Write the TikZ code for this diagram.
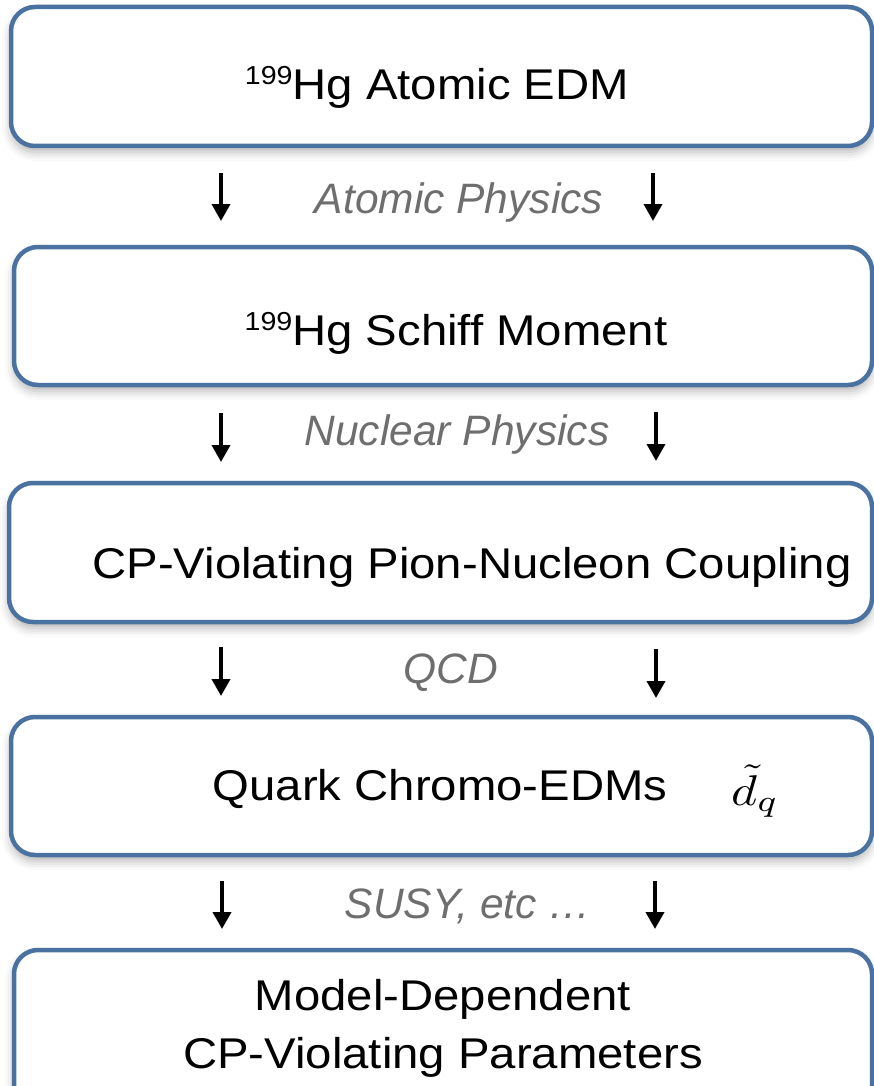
\documentclass[tikz,border=0pt]{standalone}
\usepackage{fontspec}
\setmainfont{Liberation Sans}
\newfontfamily\boxfont[FakeStretch=1.1]{Liberation Sans}
\newfontfamily\labfont{Liberation Sans}
\usetikzlibrary{arrows.meta,shadows.blur}
\definecolor{boxblue}{RGB}{74,114,160}
\definecolor{labgray}{RGB}{110,110,110}
\newcommand{\isotope}{{\fontsize{26}{26}\selectfont\raisebox{15pt}{199}}}
\tikzset{
  stagebox/.style={draw=boxblue, line width=4.5pt, rounded corners=24pt, fill=white,
    blur shadow={shadow xshift=0pt, shadow yshift=-6pt, shadow blur radius=9pt, shadow opacity=30}},
  boxtext/.style={inner sep=0pt, anchor=base, font=\boxfont\fontsize{43}{58}\selectfont, text=black},
  labtext/.style={inner sep=0pt, anchor=base, font=\labfont\itshape\fontsize{42.5}{50}\selectfont, text=labgray},
  arr/.style={line width=3.8pt, -{Triangle[width=18pt,length=17pt]}, black}
}
\begin{document}
\begin{tikzpicture}[x=1pt,y=-1pt]
\useasboundingbox (0,0) rectangle (874,1086);
% boxes
\path[stagebox] (11,7) rectangle (872,146);
\path[stagebox] (14,247) rectangle (872,385);
\path[stagebox] (9,483) rectangle (872,622);
\path[stagebox] (11,717) rectangle (872,855);
\path[stagebox] (14,950) rectangle (872,1110);
% box texts
\node[boxtext] (t1) at (437,100) {\isotope Hg Atomic EDM};
\node[boxtext] (t2) at (456,345) {\isotope Hg Schiff Moment};
\node[boxtext] (t3) at (472,578) {CP-Violating Pion-Nucleon Coupling};
\node[boxtext] (t4) at (440,800) {Quark Chromo-EDMs};
\node[inner sep=0pt, anchor=base west] (t4m) at (731,805) {\scalebox{5.0}[4.3]{$\tilde{d}_q$}};
\node[boxtext] (t5a) at (443,1010) {Model-Dependent};
\node[boxtext] (t5b) at (443,1068) {CP-Violating Parameters};
% labels
\node[labtext] (l1) at (459,213) {Atomic Physics};
\node[labtext] (l2) at (457,445) {Nuclear Physics};
\node[labtext] (l3) at (451,683) {QCD};
\node[labtext] (l4) at (468,918) {SUSY, etc \char"2026};
% arrows
\coordinate (a1s) at (221,173); \coordinate (a1e) at (221,221);
\coordinate (a2s) at (653,173); \coordinate (a2e) at (653,221);
\coordinate (a3s) at (221,413); \coordinate (a3e) at (221,462);
\coordinate (a4s) at (656,412); \coordinate (a4e) at (656,461);
\coordinate (a5s) at (221,647); \coordinate (a5e) at (221,696);
\coordinate (a6s) at (656,649); \coordinate (a6e) at (656,698);
\coordinate (a7s) at (222,881); \coordinate (a7e) at (222,929);
\coordinate (a8s) at (655,881); \coordinate (a8e) at (655,929);
\draw[arr] (a1s) -- (a1e);
\draw[arr] (a2s) -- (a2e);
\draw[arr] (a3s) -- (a3e);
\draw[arr] (a4s) -- (a4e);
\draw[arr] (a5s) -- (a5e);
\draw[arr] (a6s) -- (a6e);
\draw[arr] (a7s) -- (a7e);
\draw[arr] (a8s) -- (a8e);
\end{tikzpicture}
\end{document}
